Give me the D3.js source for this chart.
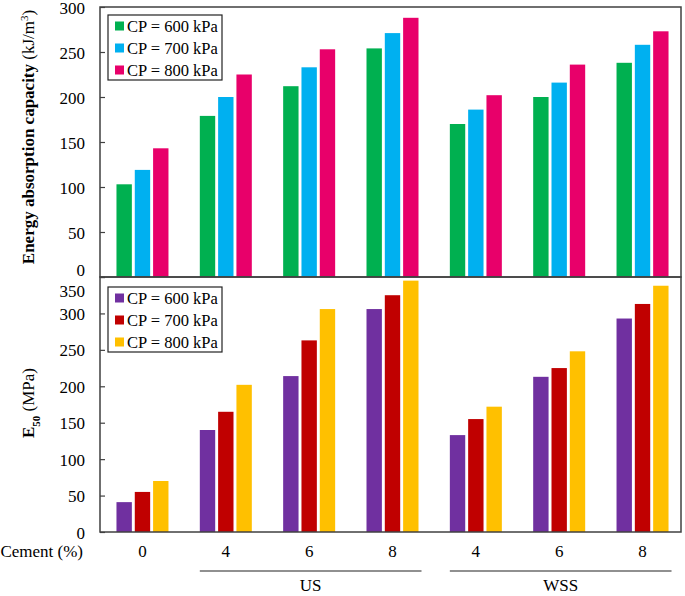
<!DOCTYPE html>
<html><head><meta charset="utf-8">
<script src="https://cdn.jsdelivr.net/npm/d3@7"></script>
<style>
body{margin:0;background:#fff;}
svg text{fill:#000;}
</style></head>
<body><svg id="c" width="685" height="596"></svg>
<script>
const groupLabels = ["0","4","6","8","4","6","8"];
const topSeries = ["CP = 600 kPa","CP = 700 kPa","CP = 800 kPa"];
const topColors = ["#00b050","#00b0f0","#e8006a"];
const energy600 = [103,179,212,254,170,200,238];
const energy700 = [119,200,233,271,186,216,258];
const energy800 = [143,225,253,288,202,236,273];
const botColors = ["#7030a0","#c00000","#ffc000"];
const e50_600 = [41,140,214,306,133,213,293];
const e50_700 = [55,165,263,325,155,225,313];
const e50_800 = [70,202,306,345,172,248,338];
const topTicks = [0,50,100,150,200,250,300];
const botTicks = [0,50,100,150,200,250,300,350];
const bracketGroups = [{name:"US", from:1, to:3},{name:"WSS", from:4, to:6}];

const FONT = "Times New Roman, Tinos, Liberation Serif, Nimbus Roman, FreeSerif, serif";
const svg = d3.select("#c");
const L = 100, R = 681;
const idx = groupLabels.map((d,i)=>i);
const x0 = d3.scaleBand().domain(idx).range([100.8,684.2]).padding(0);
const gw = 52;
const x1 = d3.scaleBand().domain([0,1,2]).range([0,gw]).paddingInner(0.16);

const yTop = d3.scaleLinear().domain([0,300]).range([277,7]);
const yBot = d3.scaleLinear().domain([0,350]).range([532,277]);

function panel(y, series, colors, ticks, title, labelShift, legendY) {
  const g = svg.append("g");
  series.forEach((vals, s) => {
    g.selectAll(null).data(vals).enter().append("rect")
      .attr("x", (d,i)=>x0(i)+x0.bandwidth()/2-gw/2+x1(s))
      .attr("width", x1.bandwidth())
      .attr("y", d=>y(d))
      .attr("height", d=>y(0)-y(d))
      .attr("fill", colors[s]);
  });
  const ax = svg.append("g").attr("transform",`translate(${L},0)`)
    .call(d3.axisLeft(y).tickValues(ticks).tickSizeInner(-5).tickSizeOuter(0).tickPadding(15));
  ax.attr("font-family", FONT);
  ax.select(".domain").remove();
  ax.selectAll(".tick line").attr("stroke","#404040").attr("stroke-width",1.2);
  ax.selectAll(".tick text").attr("font-size",17).attr("font-family",FONT)
    .attr("dy", d => (labelShift[d]!==undefined ? labelShift[d] : 0) + 6 + "px");
  svg.append("rect").attr("x",L).attr("y",y.range()[1]).attr("width",R-L)
    .attr("height",y.range()[0]-y.range()[1]).attr("fill","none")
    .attr("stroke","#404040").attr("stroke-width",1.5);
  const lg = svg.append("g");
  lg.append("rect").attr("x",108).attr("y",legendY).attr("width",114).attr("height",65)
    .attr("fill","#fff").attr("stroke","#222").attr("stroke-width",1.2);
  topSeries.forEach((s,i)=>{
    const cy = legendY + 11 + i*22;
    lg.append("rect").attr("x",115).attr("y",cy-4.5).attr("width",9).attr("height",9).attr("fill",colors[i]);
    lg.append("text").attr("x",127).attr("y",cy+5.5).attr("font-size",16.5).attr("font-family",FONT).text(s);
  });
  svg.append("g").attr("transform",`translate(34,${title.cy}) rotate(-90)`)
    .append("text").attr("text-anchor","middle").attr("font-size",17).attr("font-weight","bold")
    .attr("font-family",FONT)
    .call(t => title.build(t));
}

panel(yTop, [energy600,energy700,energy800], topColors, topTicks,
  {cy:137, build:t=>{ t.append("tspan").text("Energy absorption capacity ");
    t.append("tspan").attr("font-weight","normal").text("(kJ/m");
    t.append("tspan").attr("baseline-shift","super").attr("font-size",11).attr("font-weight","normal").text("3");
    t.append("tspan").attr("font-weight","normal").text(")"); }},
  {0:-8}, 15);

panel(yBot, [e50_600,e50_700,e50_800], botColors, botTicks,
  {cy:403, build:t=>{ t.append("tspan").text("E");
    t.append("tspan").attr("baseline-shift","sub").attr("font-size",11).text("50");
    t.append("tspan").attr("font-weight","normal").text(" (MPa)"); }},
  {350:13}, 287);

svg.append("text").attr("x",83).attr("y",557).attr("text-anchor","end").attr("font-size",17).attr("font-family",FONT).text("Cement (%)");
svg.selectAll(".xl").data(groupLabels).enter().append("text")
  .attr("x",(d,i)=>x0(i)+x0.bandwidth()/2).attr("y",557).attr("text-anchor","middle")
  .attr("font-size",17).attr("font-family",FONT).text(d=>d);

bracketGroups.forEach(b=>{
  const xa = x0(b.from)+x0.bandwidth()/2-26, xb = x0(b.to)+x0.bandwidth()/2+29;
  svg.append("line").attr("x1",xa).attr("x2",xb).attr("y1",571).attr("y2",571)
    .attr("stroke","#222").attr("stroke-width",1.2);
  svg.append("text").attr("x",(xa+xb)/2).attr("y",591).attr("text-anchor","middle")
    .attr("font-size",17).attr("font-family",FONT).text(b.name);
});
</script></body></html>
